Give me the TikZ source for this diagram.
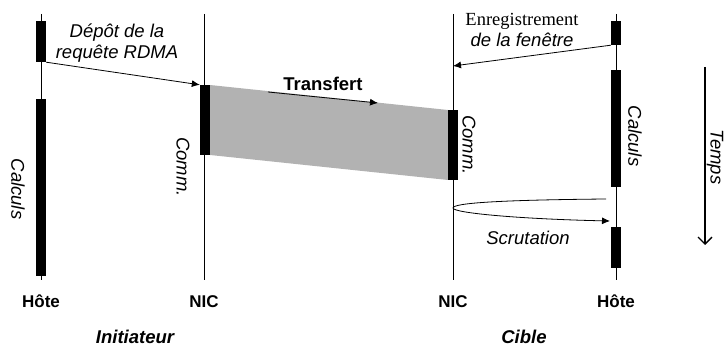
\documentclass[tikz,border=0pt]{standalone}
\usepackage{fontspec}
\setmainfont{Liberation Sans}
\newfontfamily\timesfont{Liberation Serif}
\usetikzlibrary{arrows.meta}

\begin{document}
\begin{tikzpicture}[x=1pt,y=-1pt]
    % Use sans-serif font, sized like the figure
    \tikzstyle{every node}=[font=\fontsize{18.5}{21}\selectfont]
    \tikzstyle{bar}=[fill=black, minimum width=10, inner sep=0, draw=none]
    \tikzstyle{vlabel}=[font=\fontsize{18.5}{21}\selectfont\itshape, rotate=-90]
    \tikzstyle{msg}=[line width=0.8pt, -{Latex[length=8pt,width=7pt]}]

    \useasboundingbox (0,0) rectangle (726,347);

    % Draw the life lines
    \foreach \x in {41,204,453,616} \draw[line width=0.7pt] (\x,14) -- (\x,280);

    % Gray transfer band between the two NICs
    \fill[gray!60] (210,85) -- (448,110) -- (448,180) -- (210,155) -- cycle;

    % Draw the activity bars
    \foreach \n/\x/\a/\b in {calcIa/41/21/62, calcIb/41/99/276, commI/205/85/155,
                             commC/453/110/180, calcCa/616/21/45, calcCb/616/70/187,
                             calcCc/616/227/268}
        \node[bar, minimum height=\b-\a] (\n) at (\x,{(\a+\b)/2}) {};

    % Label the life lines (on a common baseline)
    \foreach \x/\t in {41/Hôte,204/NIC,453/NIC,616/Hôte}
        \node[font=\fontsize{17}{19}\selectfont\bfseries, anchor=base] (lab\x) at (\x,308) {\t};
    \node[font=\fontsize{18.5}{21}\selectfont\bfseries\itshape, anchor=base] (init) at (135,344) {Initiateur};
    \node[font=\fontsize{18.5}{21}\selectfont\bfseries\itshape, anchor=base] (cible) at (524,344) {Cible};

    % Label the bars
    \node[vlabel] (calcLa) at (18,189) {Calculs};
    \node[vlabel] (commLa) at (183,167) {Comm.};
    \node[vlabel] (commLb) at (469,145) {Comm.};
    \node[vlabel] (calcLb) at (635,136) {Calculs};

    % Request posted by the initiator host
    \node[align=center, font=\fontsize{18.5}{21}\selectfont\itshape] (depot) at (117,43)
        {Dépôt de la\\requête RDMA};
    \draw[msg] (calcIa.south east) -- (commI.north west);

    % Window registered by the target host
    \coordinate (regend) at (453,66);
    \node[align=center] (enreg) at (522,30)
        {{\timesfont Enregistrement}\\{\itshape de la fenêtre}};
    \draw[msg] (calcCa.south west) -- (regend);

    % Transfer
    \node[font=\fontsize{18.5}{21}\selectfont\bfseries] (transf) at (323,84) {Transfert};
    \coordinate (trA) at (268,92);
    \coordinate (trB) at (378,103);
    \draw[msg] (trA) -- (trB);

    % Polling loop
    \coordinate (scrA) at (606,199);
    \coordinate (scrM) at (453,208);
    \coordinate (scrB) at (610,221);
    \draw[msg] (scrA) .. controls (500,200) and (453,203) .. (scrM)
        .. controls (453,213) and (520,219) .. (scrB);
    \node[font=\fontsize{18.5}{21}\selectfont\itshape] (scrut) at (528,238) {Scrutation};

    % Time axis
    \coordinate (tA) at (705,67);
    \coordinate (tB) at (705,245);
    \draw[line width=1.3pt, -{Straight Barb[length=7pt,width=14pt]}] (tA) -- (tB);
    \node[vlabel, inner sep=1pt] (temps) at (715,157) {Temps};
\end{tikzpicture}
\end{document}
